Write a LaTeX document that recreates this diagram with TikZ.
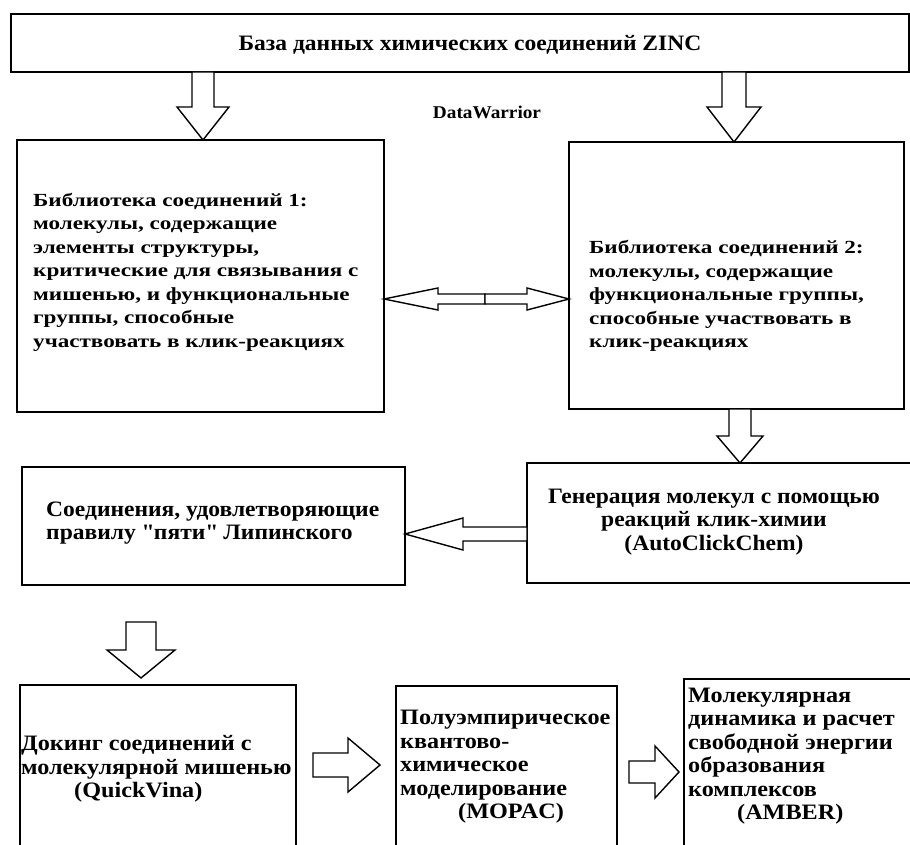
\documentclass[tikz,border=0pt]{standalone}
\usepackage{fontspec}
\setmainfont{Liberation Serif}[FakeStretch=1.25]
\newfontfamily\tallfont{Liberation Serif}[FakeStretch=1.07]
\newfontfamily\lowfont{Liberation Serif}[FakeStretch=1.1]
\usetikzlibrary{fit}

\newcommand{\strq}{\XeTeXglyph\XeTeXglyphindex "quotedbl"\relax}

% #1 x, #2 y of base, #3 y of tip, #4 shaft half width, #5 head half width, #6 y where head starts
\newcommand{\BlkDown}[6]{%
  \draw[barrow] (#1-#4,#2) -- (#1-#4,#6) -- (#1-#5,#6) -- (#1,#3) -- (#1+#5,#6) -- (#1+#4,#6) -- (#1+#4,#2) -- cycle;}
% #1 y, #2 x of base, #3 x of tip, #4 shaft half height, #5 head half height, #6 x where head starts
\newcommand{\BlkHor}[6]{%
  \draw[barrow] (#2,#1-#4) -- (#6,#1-#4) -- (#6,#1-#5) -- (#3,#1) -- (#6,#1+#5) -- (#6,#1+#4) -- (#2,#1+#4) -- cycle;}

\tikzset{
  box/.style={draw, line width=1.7pt, rectangle, inner sep=0pt},
  txt/.style={font=\fontsize{18.5}{23.5}\selectfont\bfseries, inner sep=0pt, align=left},
  ttxt/.style={font=\tallfont\fontsize{22}{23.5}\selectfont\bfseries, inner sep=0pt, align=left},
  btxt/.style={font=\lowfont\fontsize{22}{23.5}\selectfont\bfseries, inner sep=0pt, align=left},
  barrow/.style={draw, line width=1.4pt, fill=white, line join=miter},
}

\begin{document}
\begin{tikzpicture}[x=1pt,y=-1pt]
\clip (0,0) rectangle (910,845);

% boxes
\node[box, fit={(11,14) (909,72)}] (zinc) {};
\node[ttxt, anchor=base] (zinct) at (470,51) {База данных химических соединений ZINC};
\node[ttxt, font=\tallfont\fontsize{18}{20}\selectfont\bfseries] (dw) at (487,112) {DataWarrior};

\node[box, fit={(17,140) (384,412)}] (lib1) {};
\node[txt, anchor=west] (lib1t) at (33,272) {Библиотека соединений 1:\\молекулы, содержащие\\элементы структуры,\\критические для связывания с\\мишенью, и функциональные\\группы, способные\\участвовать в клик-реакциях};

\node[box, fit={(569,142) (904,409)}] (lib2) {};
\node[txt, anchor=west] (lib2t) at (589,296) {Библиотека соединений 2:\\молекулы, содержащие\\функциональные группы,\\способные участвовать в\\клик-реакциях};

\node[box, fit={(527,463) (915,583)}] (gen) {};
\node[ttxt, align=center] (gent) at (714,522) {Генерация молекул с помощью\\реакций клик-химии\\(AutoClickChem)};

\node[box, fit={(22,467) (405,585)}] (lip) {};
\node[ttxt, anchor=west] (lipt) at (46,523) {Соединения, удовлетворяющие\\правилу \strq пяти\strq{} Липинского};

\node[box, fit={(20,685) (296,860)}] (dock) {};
\node[btxt, anchor=west] (dockt) at (21,769) {Докинг соединений с\\молекулярной мишенью\\\hspace*{53pt}(QuickVina)};

\node[box, fit={(396,686) (617,860)}] (mopac) {};
\node[btxt, anchor=west] (mopact) at (400,767) {Полуэмпирическое\\квантово-\\химическое\\моделирование\\\hspace*{58pt}(MOPAC)};

\node[box, fit={(684,679) (920,860)}] (amber) {};
\node[btxt, anchor=west] (ambert) at (688,756) {Молекулярная\\динамика и расчет\\свободной энергии\\образования\\комплексов\\\hspace*{49pt}(AMBER)};

% block arrows
\BlkDown{203}{72}{140}{11}{26}{107}
\BlkDown{734}{72}{142}{12}{27}{107}
\BlkHor{299}{485}{384}{5}{11}{438}
\BlkHor{299}{485}{569}{5}{11}{527}
\BlkDown{740}{409}{463}{11}{23}{436}
\BlkHor{534}{527}{405}{7}{16}{463}
\BlkDown{141}{622}{678}{15}{34}{650}
\BlkHor{765}{313}{380}{12}{27}{348}
\BlkHor{772}{629}{679}{11}{26}{655}
\end{tikzpicture}
\end{document}
